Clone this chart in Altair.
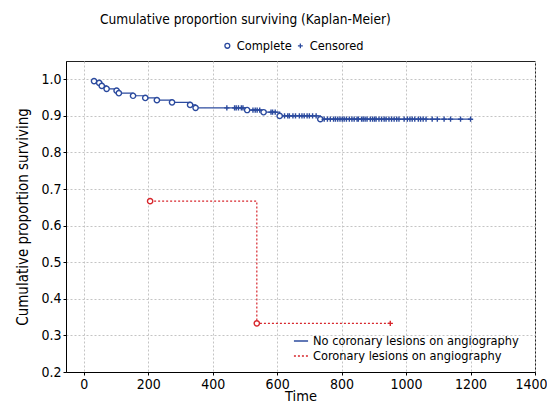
import altair as alt
import pandas as pd

FONT = "DejaVu Sans Condensed, Liberation Sans, sans-serif"

groups = ["No coronary lesions on angiography", "Coronary lesions on angiography"]
group_colors = ["#2b4a9e", "#d7262c"]

# Group 1: no coronary lesions (events = complete)
blue_event_t = [32, 48, 56, 71, 102, 109, 153, 191, 227, 274, 330, 347, 507, 558, 608, 734]
blue_event_s = [0.995, 0.990, 0.982, 0.974, 0.969, 0.962, 0.955, 0.949, 0.943, 0.937,
                0.930, 0.922, 0.916, 0.910, 0.900, 0.891]
blue_cens_t = [444, 468, 473, 480, 489, 494, 525, 532, 538, 546, 581, 586, 594,
               623, 633, 638, 649, 657, 669, 677, 684, 693, 700, 710, 721,
               746, 756, 765, 775, 781, 788, 795, 802, 808, 815, 824, 832, 839, 848,
               852, 862, 867, 873, 879, 889, 896, 902, 907, 916, 924, 932, 938, 947,
               955, 963, 971, 978, 994, 1004, 1012, 1019, 1027, 1038, 1045, 1053,
               1062, 1081, 1097, 1118, 1138, 1169, 1200]

# Group 2: coronary lesions
red_event_t = [206, 537]
red_event_s = [0.667, 0.333]
red_cens_t = [951]

x_ticks = [0, 200, 400, 600, 800, 1000, 1200, 1400]
y_ticks = [0.2, 0.3, 0.4, 0.5, 0.6, 0.7, 0.8, 0.9, 1.0]


def step_value(ev_t, ev_s, t):
    v = ev_s[0]
    for et, es in zip(ev_t, ev_s):
        if et <= t:
            v = es
    return v


line_rows = []
pt_tables = []
for g, et, es, ct in [
    (groups[0], blue_event_t, blue_event_s, blue_cens_t),
    (groups[1], red_event_t, red_event_s, red_cens_t),
]:
    rows = []
    for t, s in zip(et, es):
        line_rows.append({"t": t, "s": s, "group": g})
        rows.append({"t": t, "s": s, "kind": "Complete"})
    last_c = max(ct)
    line_rows.append({"t": last_c, "s": step_value(et, es, last_c), "group": g})
    for t in ct:
        rows.append({"t": t, "s": step_value(et, es, t), "kind": "Censored"})
    pt_tables.append(pd.DataFrame(rows))

line_df = pd.DataFrame(line_rows)

xs = alt.Scale(domain=[-55, 1400], nice=False, zero=False)
ys = alt.Scale(domain=[0.2, 1.05], nice=False, zero=False)

x_enc = alt.X("t:Q", scale=xs, title="Time",
              axis=alt.Axis(values=x_ticks, format="d", titlePadding=-2, titleFontSize=14.5,
                            labelOverlap=False, labelFlush=True, labelFlushOffset=12))
y_enc = alt.Y("s:Q", scale=ys, title="Cumulative proportion surviving",
              axis=alt.Axis(values=y_ticks, format=".1f", titlePadding=10,
                            labelOverlap=False, labelFlush=False))

leg_common = dict(title=None, orient="none", legendX=227, legendY=272,
                  labelFont=FONT, labelFontSize=12.7, labelColor="black", labelLimit=400,
                  symbolStrokeWidth=1.3, symbolSize=200, rowPadding=0, labelOffset=4)

lines = alt.Chart(line_df).mark_line(interpolate="step-after", strokeWidth=1.2).encode(
    x=x_enc, y=y_enc,
    color=alt.Color("group:N", scale=alt.Scale(domain=groups, range=group_colors),
                    legend=alt.Legend(**leg_common)),
    strokeDash=alt.StrokeDash("group:N", scale=alt.Scale(domain=groups, range=[[1, 0], [2, 2]]),
                              legend=alt.Legend(**leg_common)),
)

shape_path = "M-1,0L1,0M0,-1L0,1"
shape_enc = alt.Shape(
    "kind:N",
    scale=alt.Scale(domain=["Complete", "Censored"], range=["circle", shape_path]),
    legend=alt.Legend(title=None, orient="none", legendX=155, legendY=-22,
                      direction="horizontal", labelFont=FONT, labelFontSize=12.7,
                      labelColor="black", symbolSize=24, columnPadding=2, labelOffset=3,
                      symbolStrokeWidth=1.3, symbolOpacity=1),
)

point_layers = [
    alt.Chart(df).mark_point(filled=False, fill="white", stroke=col, strokeWidth=1.4,
                             opacity=1, size=28).encode(x=x_enc, y=y_enc, shape=shape_enc)
    for df, col in zip(pt_tables, group_colors)
]

chart = alt.layer(lines, *point_layers).properties(
    width=469, height=311,
    title=alt.TitleParams("Cumulative proportion surviving (Kaplan-Meier)", anchor="start", frame="group",
                          dx=34, offset=12, font=FONT, fontSize=13.6, fontWeight="normal", color="black"),
    autosize=alt.AutoSizeParams(type="none"),
    padding={"left": 58, "top": 53, "right": 12, "bottom": 34},
).configure_view(stroke="#222", strokeWidth=1).configure_axis(
    labelFont=FONT, labelFontSize=14, labelColor="black",
    titleFont=FONT, titleFontSize=15, titleFontWeight="normal", titleColor="black",
    domainColor="black", tickColor="black", tickSize=3,
    gridColor="#c4c4c4", gridDash=[2, 2], gridWidth=1,
)

chart.save("out.html", embed_options={"renderer": "svg", "actions": False})
